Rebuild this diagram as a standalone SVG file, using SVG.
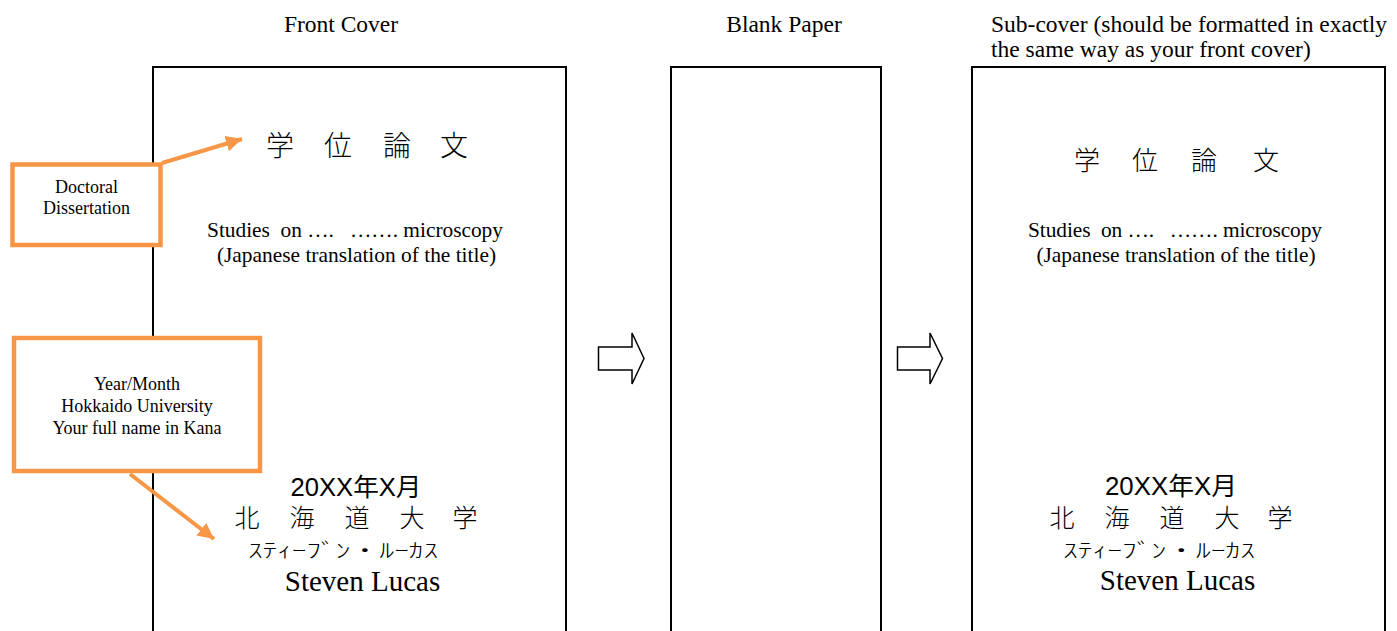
<svg xmlns="http://www.w3.org/2000/svg" width="1397" height="631" viewBox="0 0 1397 631">
<style>
.page{fill:#fff;stroke:#000;stroke-width:2}
.hdr{font-family:"Liberation Serif","Times New Roman",serif;font-size:23.5px;fill:#000}
.body{font-family:"Liberation Serif","Times New Roman",serif;font-size:21.4px;fill:#000;white-space:pre}
.lbl{font-family:"Liberation Serif","Times New Roman",serif;font-size:18px;fill:#000;text-anchor:middle}
.cjk{font-family:"Noto Sans CJK JP","Noto Sans CJK SC",sans-serif;fill:#000;text-anchor:middle;font-weight:300}
.date{font-family:"Liberation Sans","Noto Sans CJK JP",sans-serif;font-size:25px;fill:#000;text-anchor:middle}
.kana{font-family:"Noto Sans CJK JP",sans-serif;font-size:20px;fill:#000;font-weight:300}
.name{font-family:"Liberation Serif","Times New Roman",serif;font-size:29px;fill:#000;text-anchor:middle}
.obox{fill:#fff;stroke:#F79646;stroke-width:4.5}
.oline{fill:none;stroke:#F79646;stroke-width:4}
.block{fill:#fff;stroke:#000;stroke-width:1.5;stroke-linejoin:miter}
</style>
<defs>
<marker id="oarrow" markerUnits="userSpaceOnUse" markerWidth="18" markerHeight="16" refX="16" refY="8" orient="auto">
<path d="M0,0 L16,8 L0,16 Z" fill="#F79646"/>
</marker>
</defs>
<rect width="1397" height="631" fill="#fff"/>

<g id="front-cover">
<text class="hdr" x="341" y="32" text-anchor="middle">Front Cover</text>
<rect class="page" x="153" y="67" width="413" height="600"/>
<g class="cjk" font-size="28">
<text x="280" y="156">学</text>
<text x="338" y="156">位</text>
<text x="397" y="156">論</text>
<text x="454" y="156">文</text>
</g>
<text class="body" x="355" y="237" text-anchor="middle" textLength="296" lengthAdjust="spacing">Studies  on ….   ……. microscopy</text>
<text class="body" x="356.5" y="262" text-anchor="middle">(Japanese translation of the title)</text>
<text class="date" x="356" y="496" textLength="131" lengthAdjust="spacingAndGlyphs">20XX年X月</text>
<g class="cjk" font-size="25">
<text x="247" y="527">北</text>
<text x="302" y="527">海</text>
<text x="357" y="527">道</text>
<text x="412" y="527">大</text>
<text x="465" y="527">学</text>
</g>
<text class="kana" x="248" y="558" textLength="190" lengthAdjust="spacingAndGlyphs">ｽﾃｨｰﾌﾞﾝ・ﾙｰｶｽ</text>
<text class="name" x="362.5" y="591">Steven Lucas</text>
</g>

<g id="blank-paper">
<text class="hdr" x="784" y="32" text-anchor="middle">Blank Paper</text>
<rect class="page" x="671" y="67" width="210" height="600"/>
</g>

<g id="sub-cover">
<text class="hdr" x="991" y="32">Sub-cover (should be formatted in exactly</text>
<text class="hdr" x="991" y="57">the same way as your front cover)</text>
<rect class="page" x="972" y="67" width="413" height="600"/>
<g class="cjk" font-size="26">
<text x="1087" y="170">学</text>
<text x="1145" y="170">位</text>
<text x="1204" y="170">論</text>
<text x="1266" y="170">文</text>
</g>
<text class="body" x="1175" y="237" text-anchor="middle" textLength="294" lengthAdjust="spacing">Studies  on ….   ……. microscopy</text>
<text class="body" x="1176" y="262" text-anchor="middle">(Japanese translation of the title)</text>
<text class="date" x="1171" y="495" textLength="132" lengthAdjust="spacingAndGlyphs">20XX年X月</text>
<g class="cjk" font-size="25">
<text x="1062" y="527">北</text>
<text x="1117" y="527">海</text>
<text x="1172" y="527">道</text>
<text x="1227" y="527">大</text>
<text x="1280" y="527">学</text>
</g>
<text class="kana" x="1063" y="558" textLength="192" lengthAdjust="spacingAndGlyphs">ｽﾃｨｰﾌﾞﾝ・ﾙｰｶｽ</text>
<text class="name" x="1177.5" y="590">Steven Lucas</text>
</g>

<g id="doctoral-callout">
<rect class="obox" x="12.5" y="164.5" width="148" height="80.5"/>
<text class="lbl" x="86.5" y="193">Doctoral</text>
<text class="lbl" x="86.5" y="214">Dissertation</text>
</g>

<g id="year-callout">
<rect class="obox" x="14" y="338" width="246" height="133"/>
<text class="lbl" x="137" y="390">Year/Month</text>
<text class="lbl" x="137" y="412">Hokkaido University</text>
<text class="lbl" x="137" y="434">Your full name in Kana</text>
</g>

<g id="connectors">
<line class="oline" x1="162" y1="163" x2="242" y2="139" marker-end="url(#oarrow)"/>
<line class="oline" x1="130" y1="474" x2="214" y2="539" marker-end="url(#oarrow)"/>
<polygon class="block" points="598.5,347 632,347 632,333 644,358.5 632,384 632,370 598.5,370"/>
<polygon class="block" points="897.5,347 930,347 930,333 942.5,358.5 930,384 930,370 897.5,370"/>
</g>
</svg>
